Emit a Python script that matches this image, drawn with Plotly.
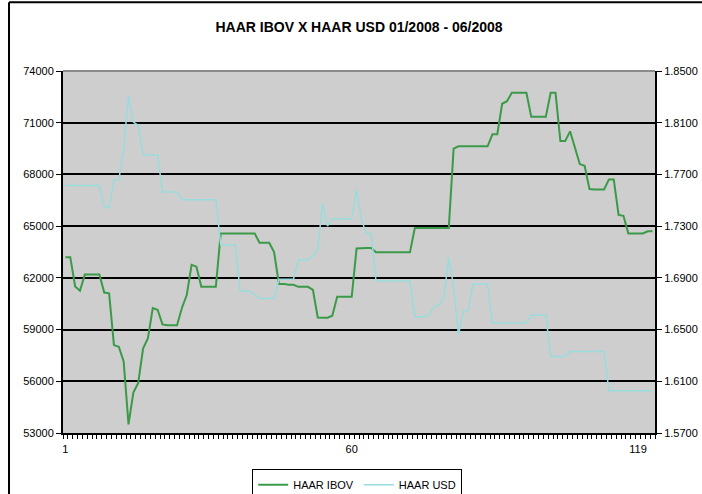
import plotly.graph_objects as go

# ---------------- data ----------------
days = list(range(1, 123))

haar_ibov = [
    63200, 63200, 61500, 61250, 62200, 62200, 62200, 62200, 61150, 61100,
    58100, 58000, 57150, 53500, 55350, 55900, 57900, 58500, 60250, 60150,
    59300, 59250, 59250, 59250, 60250, 61000, 62750, 62650, 61480, 61480,
    61480, 61480, 64580, 64580, 64580, 64580, 64580, 64580, 64580, 64580,
    64040, 64040, 64040, 63500, 61650, 61650, 61600, 61600, 61480, 61480,
    61480, 61300, 59700, 59690, 59690, 59800, 60900, 60900, 60900, 60900,
    63700, 63730, 63730, 63730, 63480, 63480, 63480, 63480, 63480, 63480,
    63480, 63480, 64890, 64890, 64890, 64890, 64890, 64890, 64890, 64890,
    69500, 69630, 69630, 69630, 69630, 69630, 69630, 69630, 70330, 70330,
    72100, 72250, 72740, 72740, 72740, 72740, 71340, 71340, 71340, 71340,
    72740, 72740, 69940, 69940, 70500, 69500, 68600, 68500, 67150, 67130,
    67130, 67130, 67700, 67700, 65650, 65600, 64580, 64580, 64580, 64580,
    64700, 64700,
]

haar_usd = [
    1.7614, 1.7614, 1.7614, 1.7614, 1.7614, 1.7614, 1.7614, 1.7614, 1.7450, 1.7440,
    1.7657, 1.7657, 1.7900, 1.8310, 1.8105, 1.8080, 1.7850, 1.7850, 1.7850, 1.7850,
    1.7565, 1.7565, 1.7565, 1.7565, 1.7505, 1.7505, 1.7505, 1.7505, 1.7505, 1.7505,
    1.7505, 1.7505, 1.7155, 1.7155, 1.7155, 1.7155, 1.6798, 1.6798, 1.6798, 1.6770,
    1.6740, 1.6740, 1.6740, 1.6740, 1.6890, 1.6890, 1.6890, 1.6890, 1.7040, 1.7040,
    1.7040, 1.7070, 1.7120, 1.7480, 1.7300, 1.7358, 1.7358, 1.7358, 1.7358, 1.7358,
    1.7580, 1.7350, 1.7243, 1.7243, 1.6876, 1.6876, 1.6876, 1.6876, 1.6876, 1.6876,
    1.6876, 1.6876, 1.6600, 1.6600, 1.6600, 1.6620, 1.6680, 1.6690, 1.6750, 1.7057,
    1.6830, 1.6460, 1.6640, 1.6650, 1.6850, 1.6850, 1.6850, 1.6850, 1.6550, 1.6550,
    1.6550, 1.6550, 1.6550, 1.6550, 1.6550, 1.6550, 1.6610, 1.6610, 1.6610, 1.6610,
    1.6292, 1.6292, 1.6292, 1.6292, 1.6330, 1.6330, 1.6330, 1.6330, 1.6330, 1.6330,
    1.6330, 1.6330, 1.6026, 1.6026, 1.6026, 1.6026, 1.6026, 1.6026, 1.6026, 1.6026,
    1.6026, 1.6026,
]

x_tick_vals = [1, 60, 119]
x_tick_labels = ["1", "60", "119"]
left_ticks = [53000, 56000, 59000, 62000, 65000, 68000, 71000, 74000]
right_ticks = [1.57, 1.61, 1.65, 1.69, 1.73, 1.77, 1.81, 1.85]
right_tick_labels = ["1.5700", "1.6100", "1.6500", "1.6900", "1.7300", "1.7700", "1.8100", "1.8500"]

title_text = "HAAR IBOV X HAAR USD 01/2008 - 06/2008"
series_names = ["HAAR IBOV", "HAAR USD"]

# ---------------- figure ----------------
FONT = "Liberation Sans, Arial, sans-serif"

fig = go.Figure()
fig.add_trace(go.Scatter(
    x=days, y=haar_ibov, mode="lines", name=series_names[0],
    line=dict(color="#3a9a48", width=2),
))
fig.add_trace(go.Scatter(
    x=days, y=haar_usd, mode="lines", name=series_names[1], yaxis="y2",
    line=dict(color="#99dcdc", width=1.5),
))

minor_ticks = [i + 0.5 for i in range(0, len(days) + 1)]

fig.update_layout(
    width=702, height=494,
    margin=dict(l=63, r=47, t=71, b=61, autoexpand=False),
    paper_bgcolor="white",
    plot_bgcolor="#cecece",
    font=dict(family=FONT, size=11, color="black"),
    title=dict(
        text=title_text, x=0.5, xref="paper", xanchor="center",
        y=1 - 27 / 494, yref="container", yanchor="middle",
        font=dict(family=FONT, size=14, color="black", weight="bold"),
    ),
    xaxis=dict(
        range=[0.5, len(days) + 0.5],
        tickmode="array", tickvals=x_tick_vals, ticktext=x_tick_labels,
        ticks="outside", ticklen=5, tickcolor="rgba(0,0,0,0)",
        showgrid=False, zeroline=False,
        showline=True, linecolor="black", linewidth=2,
        tickfont=dict(size=11),
        minor=dict(tickmode="array", tickvals=minor_ticks, ticks="outside",
                   ticklen=4, tickcolor="black", tickwidth=1, showgrid=False),
    ),
    yaxis=dict(
        range=[left_ticks[0], left_ticks[-1]],
        tickmode="array", tickvals=left_ticks,
        ticktext=[str(v) for v in left_ticks],
        ticks="outside", ticklen=5, tickcolor="black", tickwidth=1,
        showgrid=True, gridcolor="black", gridwidth=2,
        zeroline=False, showline=True, linecolor="black", linewidth=2,
        tickfont=dict(size=11),
    ),
    yaxis2=dict(
        overlaying="y", side="right",
        range=[right_ticks[0], right_ticks[-1]],
        tickmode="array", tickvals=right_ticks, ticktext=right_tick_labels,
        ticks="outside", ticklen=5, tickcolor="black", tickwidth=1,
        showgrid=False, zeroline=False,
        showline=True, linecolor="black", linewidth=2,
        tickfont=dict(size=11),
    ),
    legend=dict(
        orientation="h", x=0.497, xanchor="center",
        y=-0.1, yanchor="top",
        bgcolor="white", bordercolor="black", borderwidth=1,
        font=dict(size=11), itemwidth=30,
    ),
    showlegend=True,
)

# plot-area top border (gray) and outer chart frame
fig.add_shape(type="line", xref="paper", yref="paper", x0=0, x1=1, y0=1, y1=1,
              line=dict(color="#8a8a8a", width=2), layer="above")
fig.add_shape(type="line", xref="paper", yref="paper",
              x0=-0.0912, x1=-0.0912, y0=-0.2, y1=1.19,
              line=dict(color="black", width=2))
fig.add_shape(type="line", xref="paper", yref="paper",
              x0=-0.0912, x1=1.1, y0=1.19, y1=1.19,
              line=dict(color="black", width=2))

fig.write_html("out.html")
